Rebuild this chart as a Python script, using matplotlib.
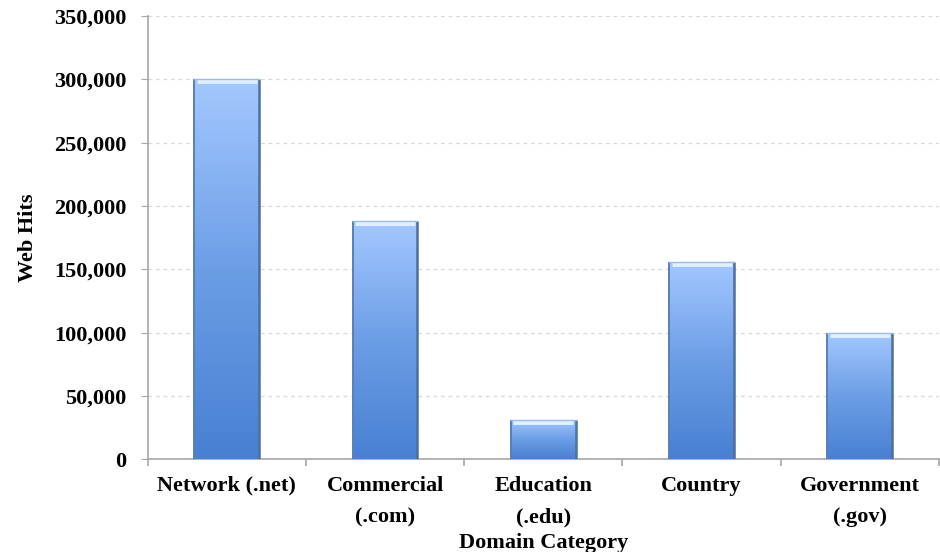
import matplotlib
matplotlib.use('Agg')
import matplotlib.pyplot as plt
import numpy as np
from matplotlib.colors import LinearSegmentedColormap
from matplotlib.ticker import FuncFormatter

# data
categories = ['Network (.net)', 'Commercial\n(.com)', 'Education\n(.edu)', 'Country', 'Government\n(.gov)']
web_hits = [300000, 188000, 31000, 156000, 100000]
y_ticks = [0, 50000, 100000, 150000, 200000, 250000, 300000, 350000]

plt.rcParams['font.family'] = ['Liberation Serif', 'DejaVu Serif']
plt.rcParams['font.weight'] = 'bold'

fig = plt.figure(figsize=(9.4, 5.52), dpi=100)
ax = fig.add_axes([0.157, 0.168, 0.842, 0.803])

x = np.arange(len(categories))
bars = ax.bar(x, web_hits, width=0.41, color='none', edgecolor='none', zorder=3)

# vertical gradient: light blue at top, darker blue at bottom
grad = LinearSegmentedColormap.from_list('bargrad', ['#4880d2', '#6c9ee6', '#a4c8ff'])
g = np.linspace(0, 1, 256).reshape(-1, 1)
for b in bars:
    x0, w, h = b.get_x(), b.get_width(), b.get_height()
    im = ax.imshow(g, cmap=grad, origin='lower', aspect='auto',
                   extent=[x0, x0 + w, 0, h], zorder=3)
    im.set_clip_path(b)
    # bevel: darker sides, light top band
    ax.plot([x0, x0], [0, h], color='#5b7fb4', lw=1.4, zorder=4, solid_capstyle='butt')
    ax.plot([x0 + w, x0 + w], [0, h], color='#4d6e9e', lw=1.8, zorder=4, solid_capstyle='butt')
    ax.plot([x0 + 0.015, x0 + w - 0.015], [h - 1700, h - 1700], color='#e2efff', lw=3.5, zorder=4,
            solid_capstyle='butt')
    ax.plot([x0, x0 + w], [h, h], color='#9bbbe6', lw=1, zorder=4)

ax.set_xlim(-0.5, len(categories) - 0.5)
ax.set_ylim(0, 350000)
ax.set_yticks(y_ticks)
ax.yaxis.set_major_formatter(FuncFormatter(lambda v, p: f'{int(v):,}'))
ax.set_xticks(x)
ax.set_xticklabels(categories, linespacing=1.75)
ax.set_xticks(np.arange(len(categories) + 1) - 0.5, minor=True)

ax.grid(axis='y', color='#d9d9d9', linestyle=(0, (3, 3)), lw=0.9, zorder=0)
for s in ['top', 'right']:
    ax.spines[s].set_visible(False)
for s in ['left', 'bottom']:
    ax.spines[s].set_color('#a6a6a6')
    ax.spines[s].set_linewidth(1.2)

ax.tick_params(axis='y', which='major', length=5, color='#a6a6a6', pad=10, labelsize=16)
ax.tick_params(axis='x', which='major', length=0, pad=12, labelsize=16)
ax.tick_params(axis='x', which='minor', length=5, color='#a6a6a6', width=1.2)

ax.set_ylabel('Web Hits', fontsize=16, fontweight='bold', labelpad=12)
ax.set_xlabel('Domain Category', fontsize=16, fontweight='bold', labelpad=4)

fig.savefig('out.png', dpi=100)
